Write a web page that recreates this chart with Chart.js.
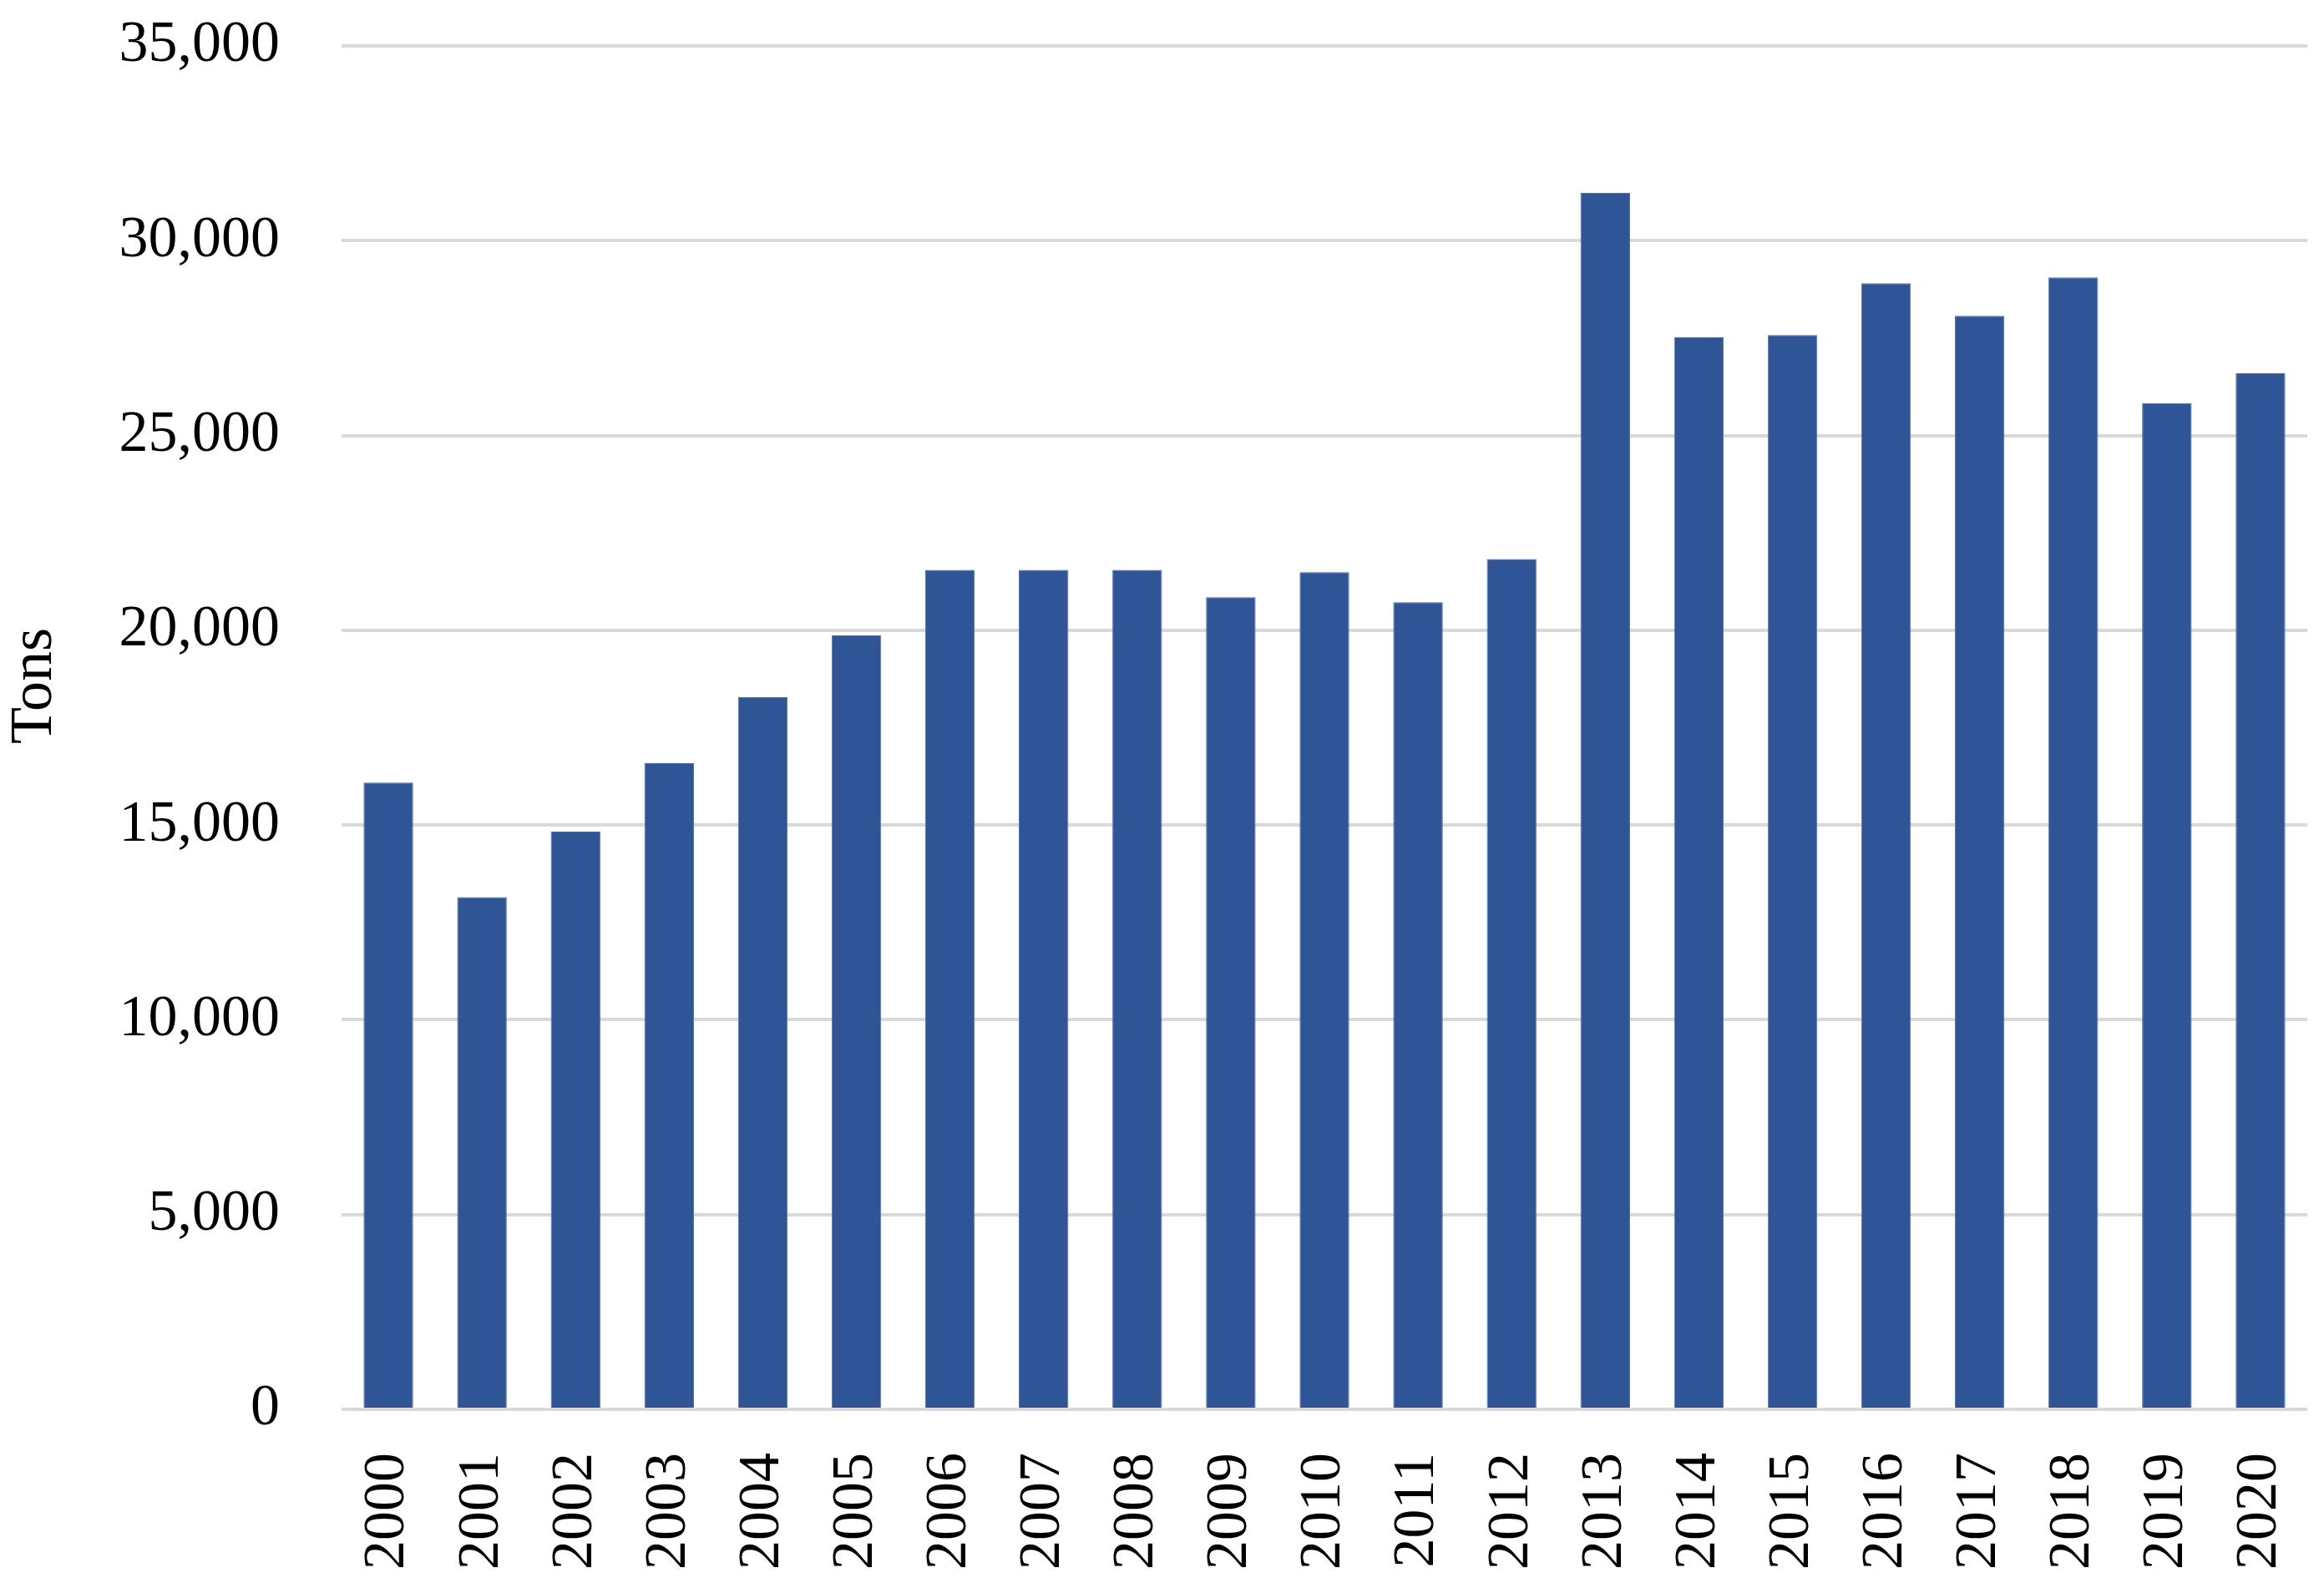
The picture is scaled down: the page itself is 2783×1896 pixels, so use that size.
<!DOCTYPE html>
<html>
<head>
<meta charset="utf-8">
<script src="https://cdn.jsdelivr.net/npm/chart.js@4.4.1/dist/chart.umd.min.js"></script>
<style>
  html, body { margin: 0; padding: 0; background: #ffffff; }
  #wrap { width: 2783px; height: 1896px; position: relative; }
</style>
</head>
<body>
<div id="wrap"><canvas id="c" width="2783" height="1896"></canvas></div>
<script>
const years = ["2000","2001","2002","2003","2004","2005","2006","2007","2008","2009","2010",
               "2011","2012","2013","2014","2015","2016","2017","2018","2019","2020"];
const tons = [16090, 13150, 14830, 16590, 18280, 19870, 21550, 21550, 21550, 20850, 21490,
              20720, 21830, 31230, 27520, 27580, 28910, 28070, 29060, 25830, 26600];
const yTicks = [0, 5000, 10000, 15000, 20000, 25000, 30000, 35000];
const yTitle = "Tons";

const FONT = "'Liberation Serif', 'DejaVu Serif', serif";

function noPad(s) {
  s.paddingTop = 0; s.paddingBottom = 0; s.paddingLeft = 0; s.paddingRight = 0;
}

const yTitlePlugin = {
  id: 'yTitle',
  afterDraw(chart) {
    const ctx = chart.ctx;
    const a = chart.chartArea;
    ctx.save();
    ctx.fillStyle = '#000';
    ctx.font = "72px " + FONT;
    ctx.textAlign = 'center';
    ctx.textBaseline = 'middle';
    ctx.translate(42, (a.top + a.bottom) / 2 - 50);
    ctx.rotate(-Math.PI / 2);
    ctx.fillText(yTitle, 0, 0);
    ctx.restore();
  }
};

new Chart(document.getElementById('c'), {
  type: 'bar',
  data: {
    labels: years,
    datasets: [{
      data: tons,
      backgroundColor: '#2F5597',
      borderColor: '#5074B0',
      borderWidth: 1,
      barPercentage: 0.53,
      categoryPercentage: 1.0
    }]
  },
  plugins: [yTitlePlugin],
  options: {
    responsive: false,
    animation: false,
    layout: { padding: { top: 55, right: 20, bottom: 0, left: 0 } },
    plugins: { legend: { display: false }, tooltip: { enabled: false } },
    scales: {
      x: {
        grid: { display: false, drawTicks: false },
        border: { display: false },
        ticks: {
          color: '#000',
          font: { family: FONT, size: 70 },
          minRotation: 90,
          maxRotation: 90,
          padding: 52,
          autoSkip: false
        },
        afterFit: (s) => { s.height = 208; noPad(s); }
      },
      y: {
        min: 0,
        max: 35000,
        afterBuildTicks: (s) => { s.ticks = yTicks.map(v => ({ value: v })); },
        grid: { color: '#d9d9d9', lineWidth: 4, drawTicks: false },
        border: { display: false },
        ticks: {
          color: '#000',
          font: { family: FONT, size: 70 },
          padding: 74,
          callback: (v) => Number(v).toLocaleString('en-US')
        },
        afterFit: (s) => { s.width = 409; noPad(s); }
      }
    }
  }
});
</script>
</body>
</html>
